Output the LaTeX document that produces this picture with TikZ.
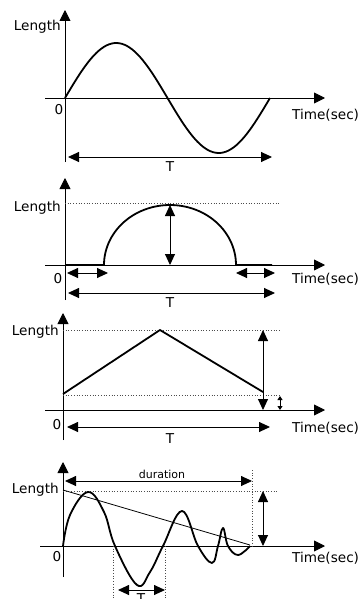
\documentclass[tikz,border=0pt]{standalone}
\usepackage{fontspec}
\setmainfont{DejaVu Sans}
\usetikzlibrary{arrows.meta, positioning}

\begin{document}
\begin{tikzpicture}[
    x=1pt, y=-1pt,
    axis/.style={-{Triangle[length=11pt, width=11pt]}, line width=0.9pt},
    curve/.style={line width=1.8pt, line join=round},
    dim/.style={{Triangle[length=11pt, width=10pt]}-{Triangle[length=11pt, width=10pt]}, line width=0.9pt},
    smalldim/.style={{Triangle[length=4pt, width=5pt]}-{Triangle[length=4pt, width=5pt]}, line width=0.9pt},
    guide/.style={dotted, line width=0.7pt, black!70},
    lbl/.style={font=\fontsize{13.6}{15}\selectfont, inner sep=0pt}
]
\useasboundingbox (0,0) rectangle (363,599);

% Sine wave (top)
\draw[axis] (65,162) -- (65,10);
\draw[axis] (45,98) -- (325,98);
\draw[curve, domain=0:360, samples=80, smooth] plot ({65+0.5694*\x}, {98-55*sin(\x)});
\node[lbl, anchor=east] (len1) at (61,27) {Length};
\node[lbl] (zero1) at (59,110) {0};
\node[lbl, anchor=west] (time1) at (292,115) {Time(sec)};
\coordinate (t1a) at (68,157);
\coordinate (t1b) at (272,157);
\draw[dim] (t1a) -- (t1b);
\node[lbl] (per1) at (170,167) {T};

% Half circle pulse
\draw[axis] (65,300) -- (65,178);
\draw[axis] (45,265) -- (325,265);
\draw[guide] (65,203) -- (280,203);
\draw[curve] (65,265) -- (104,265)
    plot[domain=180:0, samples=60, smooth] ({170+66*cos(\x)}, {265-60*sin(\x)})
    -- (272,265);
\coordinate (top2) at (170,205);
\coordinate (base2) at (170,265);
\draw[dim] (top2) -- (base2);
\draw[dim] (67,273) -- (108,273);
\draw[dim] (236,273) -- (275,273);
\node[lbl, anchor=east] (len2) at (61,208) {Length};
\node[lbl] (zero2) at (58,279) {0};
\node[lbl, anchor=west] (time2) at (292,279) {Time(sec)};
\draw[dim] (68,293) -- (275,293);
\node[lbl] (per2) at (170,303) {T};

% Triangle wave
\draw[axis] (63,440) -- (63,313);
\draw[axis] (45,410) -- (325,410);
\draw[guide] (63,330) -- (280,330);
\draw[guide] (63,395) -- (280,395);
\draw[curve] (63,394) -- (160,330) -- (263,392);
\coordinate (top3) at (263,330);
\coordinate (base3) at (263,410);
\draw[dim] (top3) -- (base3);
\draw[smalldim] (280,396) -- (280,410);
\node[lbl, anchor=east] (len3) at (59,332) {Length};
\node[lbl] (zero3) at (57,425) {0};
\node[lbl, anchor=west] (time3) at (292,428) {Time(sec)};
\draw[dim] (67,427) -- (270,427);
\node[lbl] (per3) at (170,439) {T};

% Damped oscillation (bottom)
\draw[axis] (63,577) -- (63,462);
\draw[axis] (40,546) -- (325,546);
\draw[guide] (63,491) -- (278,491);
\draw[guide] (252,470) -- (252,546);
\draw[guide] (113,546) -- (113,599);
\draw[guide] (165,546) -- (165,599);
\draw[line width=0.8pt] (63,490) -- (250,545);
\draw[curve] plot[smooth, tension=0.65] coordinates {
    (63,546) (70,515) (88,492) (104,512) (115,546) (137,585) (150,572) (163,546)
    (182,511) (198,546) (212,563) (218,546) (223,528) (228,546) (238,555) (250,546)};
\draw[dim] (65,481) -- (252,481);
\node[lbl, font=\fontsize{11}{13}\selectfont] (dur) at (162,474) {duration};
\draw[dim] (263,491) -- (263,546);
\draw[dim] (118,590) -- (165,590);
\node[lbl, anchor=north] (per4) at (141,593) {T};
\node[lbl, anchor=east] (len4) at (59,490) {Length};
\node[lbl] (zero4) at (57,557) {0};
\node[lbl, anchor=west] (time4) at (292,558) {Time(sec)};
\end{tikzpicture}
\end{document}
